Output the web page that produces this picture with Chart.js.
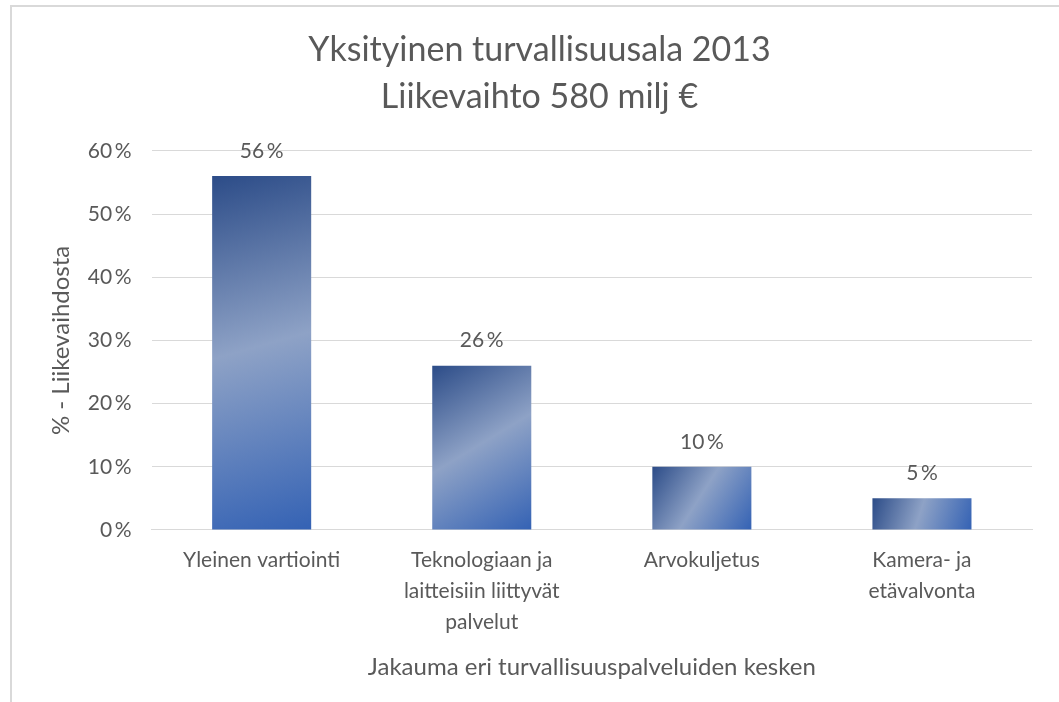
<!DOCTYPE html>
<html>
<head>
<meta charset="utf-8">
<script src="https://cdn.jsdelivr.net/npm/chart.js@4/dist/chart.umd.min.js"></script>
<style>
  html, body { margin: 0; padding: 0; background: #fff; overflow: hidden; }
  body { width: 1059px; height: 702px; position: relative; }
  #frame {
    position: absolute; left: 10px; top: 5px;
    width: 1058px; height: 720px;
    border-top: 2px solid #d9d9d9; border-left: 2px solid #d9d9d9;
    box-sizing: border-box;
  }
</style>
</head>
<body>
<div id="frame"><canvas id="chart"></canvas></div>
<script>
const categories = [
  "Yleinen vartiointi",
  ["Teknologiaan ja", "laitteisiin liittyvät", "palvelut"],
  "Arvokuljetus",
  ["Kamera- ja", "etävalvonta"],
];
const shares = [56, 26, 10, 5];
const titleLines = ["Yksityinen turvallisuusala 2013", "Liikevaihto 580 milj €"];
const yAxisTitle = "% - Liikevaihdosta";
const xAxisTitle = "Jakauma eri turvallisuuspalveluiden kesken";

const textColor = "#595959";
const gridColor = "#d9d9d9";
const fontFamily = "Lato, 'Liberation Sans', sans-serif";
const barPct = 0.45;
const pct = (v) => v + "\u2009%";

// diagonal gradient per bar, computed from the scales
function barGradient(ctx) {
  const chart = ctx.chart;
  const xs = chart.scales.x, ys = chart.scales.y;
  if (!chart.chartArea || !xs || !ys) return "#3a5fa8";
  const i = ctx.dataIndex;
  const cx = xs.getPixelForValue(i);
  const half = (xs.width / categories.length) * barPct / 2;
  const top = ys.getPixelForValue(shares[i]);
  const base = ys.getPixelForValue(0);
  const g = chart.ctx.createLinearGradient(cx - half, top, cx + half, base);
  g.addColorStop(0, "#2c4c88");
  g.addColorStop(0.48, "#8ea2c6");
  g.addColorStop(1, "#3462b4");
  return g;
}

const valueLabels = {
  id: "valueLabels",
  afterDatasetsDraw(chart) {
    const { ctx } = chart;
    const meta = chart.getDatasetMeta(0);
    ctx.save();
    ctx.fillStyle = textColor;
    ctx.font = "21px " + fontFamily;
    ctx.textAlign = "center";
    ctx.textBaseline = "middle";
    meta.data.forEach((bar, i) => {
      ctx.fillText(pct(shares[i]), bar.x, bar.y - 25);
    });
    ctx.restore();
  },
};

new Chart(document.getElementById("chart"), {
  type: "bar",
  data: {
    labels: categories,
    datasets: [{
      data: shares,
      backgroundColor: barGradient,
      borderWidth: 0,
      categoryPercentage: 1,
      barPercentage: barPct,
    }],
  },
  options: {
    responsive: true,
    maintainAspectRatio: false,
    animation: false,
    layout: { padding: { left: 35, right: 36, top: 0, bottom: 43 } },
    plugins: {
      legend: { display: false },
      tooltip: { enabled: false },
      title: {
        display: true,
        text: titleLines,
        color: textColor,
        font: { family: fontFamily, size: 34, weight: "normal", lineHeight: 1.38 },
        padding: { top: 20, bottom: 30 },
      },
    },
    scales: {
      x: {
        grid: { display: false, drawTicks: false },
        border: { color: gridColor },
        ticks: {
          color: textColor,
          font: { family: fontFamily, size: 21, lineHeight: 1.48 },
          padding: 15,
          maxRotation: 0,
          autoSkip: false,
        },
        title: {
          display: true,
          text: xAxisTitle,
          color: textColor,
          font: { family: fontFamily, size: 24, lineHeight: 1.2 },
          padding: { top: 0, bottom: 0 },
        },
      },
      y: {
        min: 0,
        max: 60,
        grid: { color: gridColor, drawTicks: false },
        border: { display: false },
        ticks: {
          stepSize: 10,
          color: textColor,
          font: { family: fontFamily, size: 21 },
          padding: 20,
          callback: (v) => pct(v),
        },
        title: {
          display: true,
          text: yAxisTitle,
          color: textColor,
          font: { family: fontFamily, size: 24, lineHeight: 1.2 },
          padding: { top: 0, bottom: -8 },
        },
      },
    },
  },
  plugins: [valueLabels],
});
</script>
</body>
</html>
